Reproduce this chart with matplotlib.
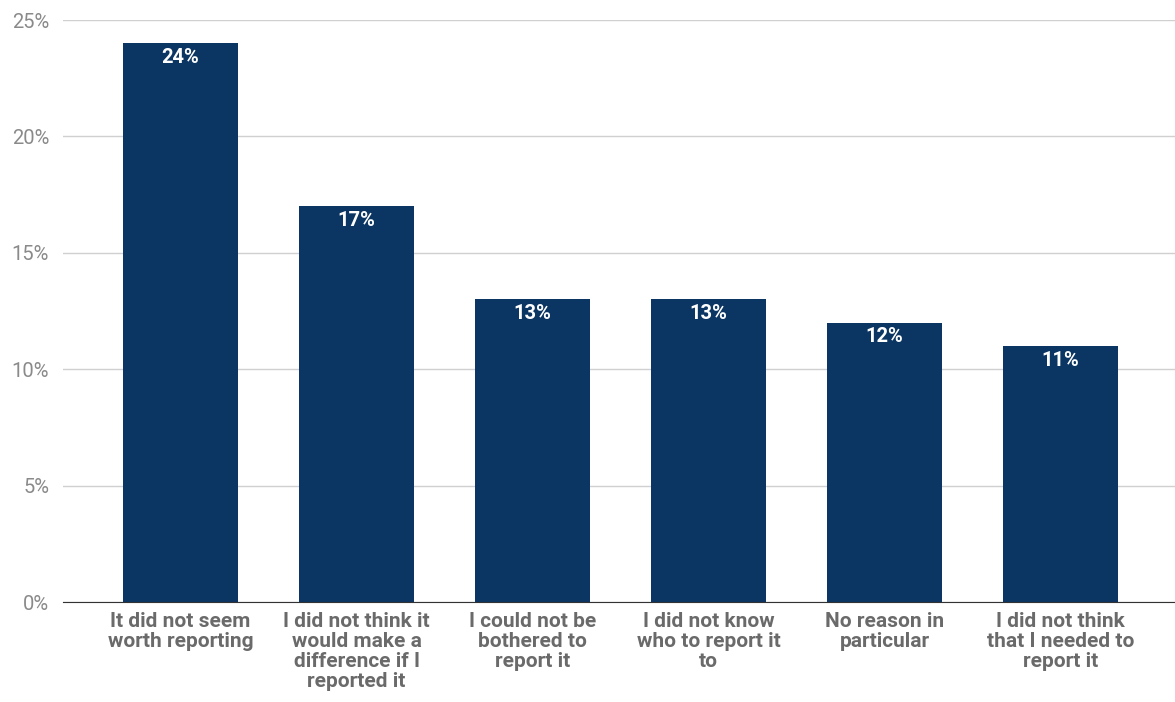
import matplotlib
matplotlib.use("Agg")
import matplotlib.pyplot as plt
from matplotlib.ticker import FuncFormatter

# survey answers and share of respondents (%)
reasons = [
    "It did not seem\nworth reporting",
    "I did not think it\nwould make a\ndifference if I\nreported it",
    "I could not be\nbothered to\nreport it",
    "I did not know\nwho to report it\nto",
    "No reason in\nparticular",
    "I did not think\nthat I needed to\nreport it",
]
shares = [24, 17, 13, 13, 12, 11]
yticks = [0, 5, 10, 15, 20, 25]

plt.rcParams["font.family"] = ["Roboto", "DejaVu Sans"]

fig = plt.figure(figsize=(11.75, 7.02), dpi=100)
ax = fig.add_axes([63 / 1175, 1 - 602 / 702, 1 - 63 / 1175, (602 - 20) / 702])

x = range(len(shares))
bars = ax.bar(x, shares, width=0.65, color="#0b3562", zorder=3)

for b, v in zip(bars, shares):
    ax.text(b.get_x() + b.get_width() / 2, v - 0.2, f"{v}%", ha="center", va="top",
            color="white", fontsize=14.5, fontweight="bold", zorder=4)

ax.set_ylim(0, 25)
ax.set_xlim(-0.668, 5.65)
ax.set_yticks(yticks)
ax.yaxis.set_major_formatter(FuncFormatter(lambda v, p: f"{v:.0f}%"))
ax.grid(axis="y", color="#d0d0d0", linewidth=1, zorder=0)
ax.set_xticks(list(x))
ax.set_xticklabels(reasons, fontsize=15, fontweight="bold", color="#6a6a6a", linespacing=1.08)
ax.tick_params(axis="y", length=0, pad=10, labelsize=14.5, labelcolor="#8a8a8a")
ax.tick_params(axis="x", length=0, pad=7)

for s in ["top", "right", "left"]:
    ax.spines[s].set_visible(False)
ax.spines["bottom"].set_color("#333333")
ax.spines["bottom"].set_zorder(5)

fig.savefig("out.png", dpi=100)
